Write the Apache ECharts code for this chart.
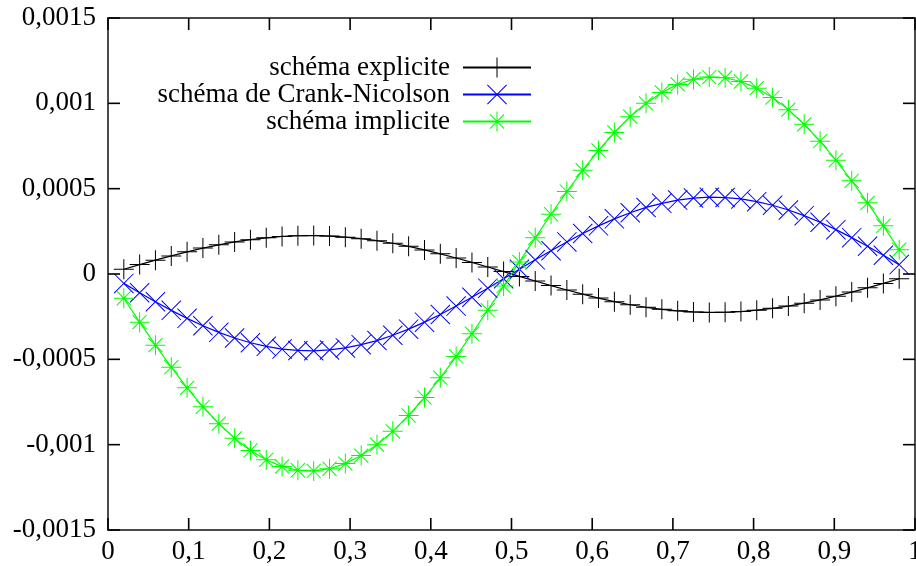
<!DOCTYPE html>
<html>
<head>
<meta charset="utf-8">
<script src="https://cdn.jsdelivr.net/npm/echarts@6/dist/echarts.min.js"></script>
<style>
html,body{margin:0;padding:0;background:#fff;}
#chart{width:916px;height:566px;}
</style>
</head>
<body>
<div id="chart"></div>
<script>
// x positions of the grid points
const xValues = [0.0196,0.0392,0.0588,0.0784,0.0980,0.1176,0.1373,0.1569,0.1765,0.1961,
  0.2157,0.2353,0.2549,0.2745,0.2941,0.3137,0.3333,0.3529,0.3725,0.3922,
  0.4118,0.4314,0.4510,0.4706,0.4902,0.5098,0.5294,0.5490,0.5686,0.5882,
  0.6078,0.6275,0.6471,0.6667,0.6863,0.7059,0.7255,0.7451,0.7647,0.7843,
  0.8039,0.8235,0.8431,0.8627,0.8824,0.9020,0.9216,0.9412,0.9608,0.9804];

const explicite = [0.28e-4,0.55e-4,0.81e-4,1.06e-4,1.30e-4,1.52e-4,1.71e-4,1.88e-4,2.01e-4,2.12e-4,
  2.20e-4,2.24e-4,2.25e-4,2.22e-4,2.16e-4,2.07e-4,1.95e-4,1.80e-4,1.62e-4,1.41e-4,
  1.18e-4,0.94e-4,0.68e-4,0.41e-4,0.14e-4,-0.14e-4,-0.41e-4,-0.68e-4,-0.94e-4,-1.18e-4,
  -1.41e-4,-1.62e-4,-1.80e-4,-1.95e-4,-2.07e-4,-2.16e-4,-2.22e-4,-2.25e-4,-2.24e-4,-2.20e-4,
  -2.12e-4,-2.01e-4,-1.88e-4,-1.71e-4,-1.52e-4,-1.30e-4,-1.06e-4,-0.81e-4,-0.55e-4,-0.28e-4];

const crankNicolson = [-0.55e-4,-1.10e-4,-1.63e-4,-2.13e-4,-2.60e-4,-3.03e-4,-3.42e-4,-3.75e-4,-4.03e-4,-4.24e-4,
  -4.40e-4,-4.48e-4,-4.50e-4,-4.45e-4,-4.33e-4,-4.14e-4,-3.90e-4,-3.59e-4,-3.23e-4,-2.82e-4,
  -2.37e-4,-1.88e-4,-1.36e-4,-0.83e-4,-0.28e-4,0.28e-4,0.83e-4,1.36e-4,1.88e-4,2.37e-4,
  2.82e-4,3.23e-4,3.59e-4,3.90e-4,4.14e-4,4.33e-4,4.45e-4,4.50e-4,4.48e-4,4.40e-4,
  4.24e-4,4.03e-4,3.75e-4,3.42e-4,3.03e-4,2.60e-4,2.13e-4,1.63e-4,1.10e-4,0.55e-4];

const implicite = [-1.42e-4,-2.82e-4,-4.17e-4,-5.46e-4,-6.67e-4,-7.78e-4,-8.77e-4,-9.63e-4,-10.34e-4,-10.89e-4,
  -11.28e-4,-11.50e-4,-11.54e-4,-11.41e-4,-11.11e-4,-10.64e-4,-10.00e-4,-9.22e-4,-8.29e-4,-7.24e-4,
  -6.08e-4,-4.83e-4,-3.50e-4,-2.12e-4,-0.71e-4,0.71e-4,2.12e-4,3.50e-4,4.83e-4,6.08e-4,
  7.24e-4,8.29e-4,9.22e-4,10.00e-4,10.64e-4,11.11e-4,11.41e-4,11.54e-4,11.50e-4,11.28e-4,
  10.89e-4,10.34e-4,9.63e-4,8.77e-4,7.78e-4,6.67e-4,5.46e-4,4.17e-4,2.82e-4,1.42e-4];

const seriesNames = ['schéma explicite', 'schéma de Crank-Nicolson', 'schéma implicite'];
const xTickValues = [0,0.1,0.2,0.3,0.4,0.5,0.6,0.7,0.8,0.9,1];
const xTickLabels = ['0','0,1','0,2','0,3','0,4','0,5','0,6','0,7','0,8','0,9','1'];
const yTickValues = [-0.0015,-0.001,-0.0005,0,0.0005,0.001,0.0015];
const yTickLabels = ['-0,0015','-0,001','-0,0005','0','0,0005','0,001','0,0015'];

const X_MIN = 0, X_MAX = 1, X_INT = 0.1;
const Y_MIN = -0.0015, Y_MAX = 0.0015, Y_INT = 0.0005;

const FONT = "'Liberation Serif', 'Times New Roman', serif";
const AXIS_COLOR = '#111';
const TICK_LEN = 12;

const PLUS = 'path://M-0.5,-10 L0.5,-10 L0.5,10 L-0.5,10 Z M-10,-0.5 L10,-0.5 L10,0.5 L-10,0.5 Z';
const CROSS = 'path://M-10,-9.3 L-9.3,-10 L10,9.3 L9.3,10 Z M9.3,-10 L10,-9.3 L-9.3,10 L-10,9.3 Z';
const STAR = 'path://M-0.5,-10 L0.5,-10 L0.5,10 L-0.5,10 Z M-10,-0.5 L10,-0.5 L10,0.5 L-10,0.5 Z M-7.4,-6.7 L-6.7,-7.4 L7.4,6.7 L6.7,7.4 Z M6.7,-7.4 L7.4,-6.7 L-6.7,7.4 L-7.4,6.7 Z';

function pairs(ys){ return xValues.map((x,i)=>[x, ys[i]]); }
function mkAxisLine(){ return {show:true, onZero:false, lineStyle:{color:AXIS_COLOR, width:1.5}}; }

function mkSeries(name, ys, color, symbol){
  return {
    name: name, type:'line', data: pairs(ys),
    symbol: symbol, symbolSize: 20, showAllSymbol: true, clip: false,
    lineStyle:{color: color, width: 1.2},
    itemStyle:{color: color, borderWidth: 0},
    emphasis:{disabled:true}, z: 3
  };
}

// inward ticks on all four sides (gnuplot style), positioned through the axes' scales
function renderTicks(params, api){
  const children = [];
  const mk = (x1,y1,x2,y2) => ({type:'line', shape:{x1:x1, y1:y1, x2:x2, y2:y2},
    style:{stroke:'#000', lineWidth:1.6}});
  xTickValues.forEach(v => {
    const b = api.coord([v, Y_MIN]);
    const t = api.coord([v, Y_MAX]);
    children.push(mk(b[0], b[1], b[0], b[1] - TICK_LEN));
    children.push(mk(t[0], t[1], t[0], t[1] + TICK_LEN));
  });
  yTickValues.forEach(v => {
    const l = api.coord([X_MIN, v]);
    const r = api.coord([X_MAX, v]);
    children.push(mk(l[0], l[1], l[0] + TICK_LEN, l[1]));
    children.push(mk(r[0], r[1], r[0] - TICK_LEN, r[1]));
  });
  return {type:'group', children: children};
}

const chart = echarts.init(document.getElementById('chart'), null, {renderer:'canvas'});
chart.setOption({
  animation: false,
  backgroundColor: '#fff',
  grid: {left:108, right:1, top:18, bottom:36, containLabel:false, outerBoundsMode:'none'},
  legend: {
    data: seriesNames, orient: 'vertical', align: 'right', right: 384, top: 54, padding: 0,
    itemGap: 0, itemWidth: 68, itemHeight: 25, selectedMode: false,
    textStyle: {fontFamily: FONT, fontSize: 27, color:'#000', lineHeight: 24, padding:[0,8,0,0]}
  },
  xAxis: [{
    type:'value', min:X_MIN, max:X_MAX, interval:X_INT, position:'bottom',
    axisLine: mkAxisLine(), axisTick:{show:false}, splitLine:{show:false},
    axisLabel:{margin:8, fontFamily:FONT, fontSize:27, color:'#000',
      formatter: v => xTickLabels[Math.round((v - X_MIN)/X_INT)]}
  },{
    type:'value', min:X_MIN, max:X_MAX, interval:X_INT, position:'top',
    axisLine: mkAxisLine(), axisTick:{show:false}, splitLine:{show:false}, axisLabel:{show:false}
  }],
  yAxis: [{
    type:'value', min:Y_MIN, max:Y_MAX, interval:Y_INT, position:'left',
    axisLine: mkAxisLine(), axisTick:{show:false}, splitLine:{show:false},
    axisLabel:{margin:12, fontFamily:FONT, fontSize:27, color:'#000',
      formatter: v => yTickLabels[Math.round((v - Y_MIN)/Y_INT)]}
  },{
    type:'value', min:Y_MIN, max:Y_MAX, interval:Y_INT, position:'right',
    axisLine: mkAxisLine(), axisTick:{show:false}, splitLine:{show:false}, axisLabel:{show:false}
  }],
  series: [
    { name:'ticks', type:'custom', data:[[0.5,0]], xAxisIndex:0, yAxisIndex:0,
      renderItem: renderTicks, clip:false, silent:true, z:5 },
    mkSeries(seriesNames[0], explicite, '#000000', PLUS),
    mkSeries(seriesNames[1], crankNicolson, '#0000ff', CROSS),
    mkSeries(seriesNames[2], implicite, '#00ff00', STAR)
  ]
});
</script>
</body>
</html>
